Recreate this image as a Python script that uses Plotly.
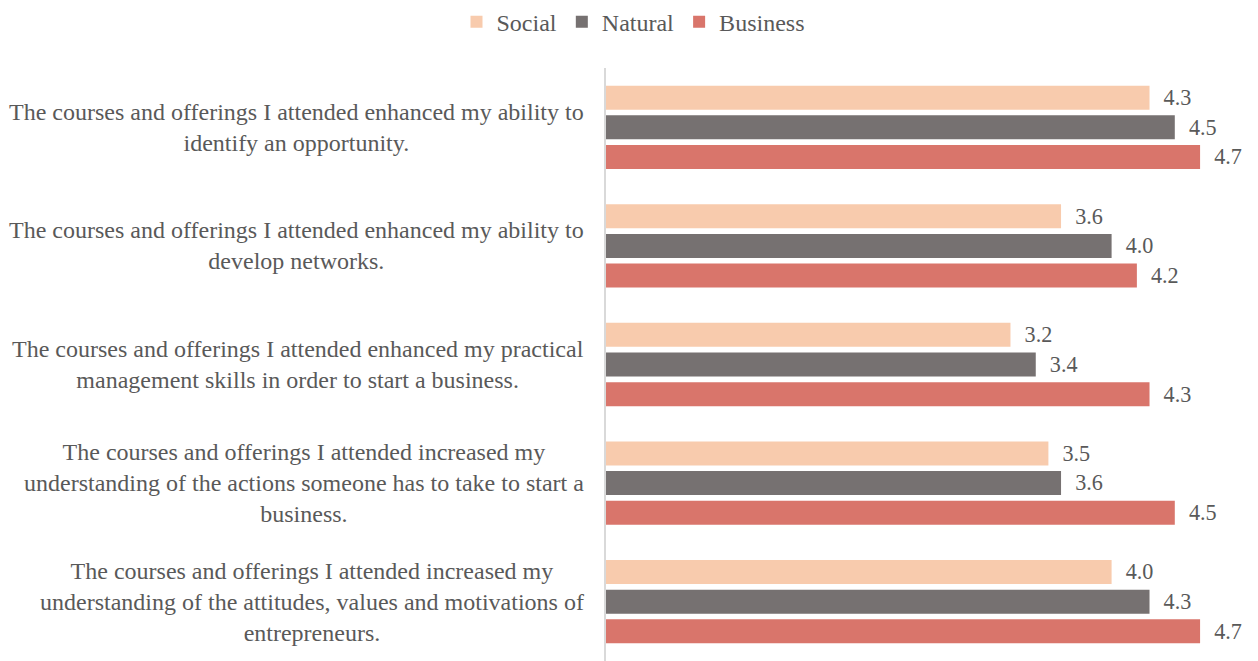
import plotly.graph_objects as go

categories = [
    "The courses and offerings I attended enhanced my ability to<br>identify an opportunity.",
    "The courses and offerings I attended enhanced my ability to<br>develop networks.",
    "The courses and offerings I attended enhanced my practical<br>management skills in order to start a business.",
    "The courses and offerings I attended increased my<br>understanding of the actions someone has to take to start a<br>business.",
    "The courses and offerings I attended increased my<br>understanding of the attitudes, values and motivations of<br>entrepreneurs.",
]
social = [4.3, 3.6, 3.2, 3.5, 4.0]
natural = [4.5, 4.0, 3.4, 3.6, 4.3]
business = [4.7, 4.2, 4.3, 4.5, 4.7]

series = [("Social", social, "#F8CBAD"), ("Natural", natural, "#767171"), ("Business", business, "#D9756B")]

FONT = "Liberation Serif, Times New Roman, serif"
TXT = "#595959"
FS = 24

fig = go.Figure()
for name, vals, color in series:
    fig.add_trace(go.Bar(
        y=categories, x=vals, name=name, orientation="h",
        marker=dict(color=color, line=dict(width=0)),
        text=["\u00a0\u00a0" + f"{v:.1f}" for v in vals],
        textposition="outside", cliponaxis=False,
        textfont=dict(family=FONT, size=FS, color=TXT),
    ))

for c in categories:
    fig.add_annotation(
        x=0, xref="paper", xshift=-20, xanchor="right",
        y=c, yref="y", yanchor="middle",
        text=c, showarrow=False, align="center",
        font=dict(family=FONT, size=FS, color=TXT),
    )

fig.update_layout(
    width=1250, height=653,
    margin=dict(l=598, r=20, t=60, b=0),
    barmode="group", bargap=0.25, bargroupgap=0.19,
    plot_bgcolor="white", paper_bgcolor="white",
    font=dict(family=FONT, size=FS, color=TXT),
    legend=dict(orientation="h", xref="container", x=0.5, xanchor="center",
                yref="container", y=0.9785, yanchor="middle",
                font=dict(family=FONT, size=FS, color=TXT), traceorder="normal",
                itemwidth=30, tracegroupgap=0),
    xaxis=dict(range=[0, 5], showgrid=False, showticklabels=False, zeroline=False, showline=False, ticks=""),
    yaxis=dict(autorange="reversed", showticklabels=False, showgrid=False, showline=True,
               linecolor="#D9D9D9", linewidth=1.5, ticks=""),
)

fig.write_html("out.html")
